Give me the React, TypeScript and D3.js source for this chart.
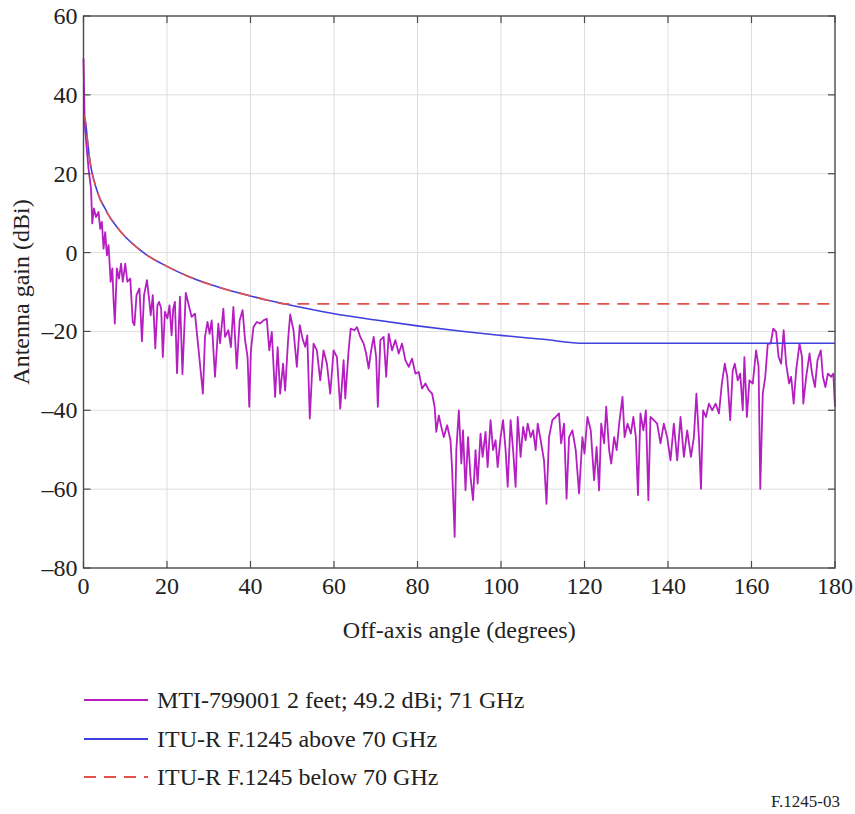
import React, { Component } from 'react';
import * as d3 from 'd3';

const measured: [number, number][] = [
  [0, 49.2], [0.3, 32.3], [1.2, 21.3], [1.8, 16.2], [2.1, 7.4], [2.5, 11.2], [3.0, 9], [3.6, 10.3],
  [4.0, 6], [4.4, 7.8], [4.8, 1], [5.2, 5.2], [5.6, -0.7], [6.0, 1.9], [6.5, -7.4], [6.9, -4],
  [7.2, -12], [7.5, -18], [8, -4], [8.5, -6.6], [9, -2.8], [9.4, -7.4], [10, -2.8], [10.5, -7.4],
  [11.2, -6.6], [11.8, -17.6], [12.2, -18.4], [12.7, -10.8], [13.4, -9.1], [14, -22.5], [14.5, -10.8],
  [15.2, -7], [15.7, -11.7], [16.1, -15.9], [16.6, -10.8], [17.2, -24.3], [17.7, -13.4], [18.1, -12.5],
  [18.6, -14.2], [19, -26.5], [19.5, -15], [20.1, -16.7], [20.6, -13.4], [21.1, -21], [21.5, -14.2],
  [21.9, -12.5], [22.4, -30.6], [23.1, -11.2], [23.7, -30.8], [24.5, -10.2],
  [25.9, -16.3], [26.7, -15.5], [27.5, -24], [28.6, -35.8], [29.1, -21.4], [29.7, -17.6], [30.2, -20.6],
  [30.7, -17.2], [31.5, -31.5], [32.3, -18], [32.7, -23], [33.5, -14.2], [33.9, -21.4], [34.7, -19.7],
  [35.3, -24], [35.9, -13.8], [36.7, -29.4], [37.4, -17.2], [38.1, -14.6], [38.7, -22.2], [39.3, -26.5],
  [39.7, -39.1], [40.1, -24.8], [40.7, -18.9], [41.5, -17.6], [42.3, -18], [43.1, -17.2], [43.9, -16.8],
  [44.5, -24.8], [45.1, -20.1], [45.9, -36.6], [46.5, -24], [47.1, -35.8], [47.8, -28.2], [48.3, -35],
  [49, -22.2], [49.5, -15.7], [50.3, -19.7], [51.1, -29], [51.8, -18.4],
  [52.5, -22], [53.1, -23.9], [53.6, -21], [54.2, -42.1], [55.1, -23.1], [55.9, -24.8], [56.7, -32.4],
  [57.5, -24.8], [58.3, -28.2], [59.1, -35.8], [59.9, -24.8], [60.7, -26.5], [61.5, -39.6], [62.3, -27.3],
  [62.7, -37], [63.5, -24.8], [64, -19.3], [64.9, -19.7], [65.5, -18.9], [66.3, -21.4], [67.1, -23.1],
  [67.7, -25.6], [68.3, -29.4], [68.9, -24.8], [69.5, -21.4], [70.1, -26.5], [70.5, -39.1], [71.1, -22.2],
  [71.9, -21.4], [72.5, -31.5], [73.1, -20.6], [73.9, -24.8], [74.7, -22.2], [75.5, -25.6], [76.3, -23.1],
  [77.1, -27.3], [77.9, -29], [78.7, -26.9], [79.5, -30.7], [80.3, -30.3], [81.1, -34.5], [81.9, -33.2],
  [82.7, -34.9], [83.5, -35.8], [84.1, -39.1], [84.5, -45.5], [85.1, -41.3], [85.7, -44.2], [86.3, -46.8],
  [87.1, -43.8], [87.9, -47.6], [88.3, -55.2], [88.9, -72.1], [89.3, -50.1], [89.9, -40], [90.5, -53.5],
  [90.9, -45.1], [91.5, -60.3], [92.1, -46.8], [92.7, -56.9], [93.3, -62.8], [93.9, -50.1], [94.4, -58.6],
  [95.1, -45.9], [95.6, -51.8], [96.3, -45.5], [96.8, -54.4], [97.5, -42.5], [98.1, -50.1], [98.7, -47.6],
  [99.2, -54.4], [99.9, -46.8], [100.5, -42.5], [101.1, -50.1], [101.6, -59.4], [102.3, -42.5], [102.9, -50.1],
  [103.5, -59.4], [104, -41.7], [104.7, -51.8], [105.3, -44.2], [105.9, -47.6], [106.4, -43.4], [107.1, -46.8],
  [107.7, -45.1], [108.3, -50.1], [108.8, -43.4], [109.5, -47.6], [110.3, -52.7], [110.9, -63.7], [111.5, -46.8],
  [112.3, -42.5], [113.1, -41.7], [113.9, -40.8], [114.4, -48.4], [115.1, -43.4], [115.7, -62.4], [116.3, -46.8],
  [117.1, -45.1], [117.9, -50.1], [118.7, -61.1],
  [119.5, -46.8], [120, -51], [120.7, -41.7], [121.5, -45.1], [122.3, -57.7], [122.9, -49.3], [123.5, -60.3],
  [124, -43.4], [124.7, -48.4], [125.2, -39.1], [125.9, -50.1], [126.4, -53.5], [127.1, -46.8], [127.7, -50.1],
  [128.3, -43.4], [129.1, -36.6], [129.6, -46.8], [130.3, -43.4], [131.1, -45.9], [131.7, -41.7], [132.3, -46.8],
  [132.8, -61.5], [133.4, -40.8], [134.1, -45.1], [134.7, -40], [135.3, -62.8], [135.8, -41.7], [136.6, -42.5],
  [137.4, -43.4], [138.2, -48.4], [139, -43.4], [139.8, -46.8], [140.6, -52.7], [141.4, -43.4], [142.2, -52.7],
  [143, -41.7], [143.8, -51.8], [144.6, -45.1], [145.5, -51.8], [146.2, -46.8], [146.8, -35.8], [147.4, -46.8],
  [147.9, -59.9], [148.4, -40], [149.1, -41.7], [149.8, -38.3], [150.6, -40], [151.4, -38.3], [152.2, -40.8],
  [152.9, -33.2], [153.6, -28.2], [154.2, -31.5], [154.9, -42.5], [155.5, -29.9], [156, -28.2], [156.7, -32.4],
  [157.3, -30.7], [157.9, -40], [158.3, -26.5], [158.9, -41.7], [159.5, -32.4], [160.3, -33.2], [161.1, -24.8],
  [161.7, -29], [162.1, -59.9], [162.7, -35.8], [163.3, -31.5], [163.9, -23.1], [164.6, -23.1], [165.2, -19.3],
  [165.9, -20.1], [166.5, -26.5], [167.1, -28.2], [167.7, -19.7], [168.3, -28.2], [169, -33.2], [169.5, -31.5],
  [170.1, -38.3], [170.7, -29.9], [171.5, -23.1], [172.1, -26.5], [172.4, -38.3], [173.1, -31.5], [173.9, -25.6],
  [174.5, -30.7], [175.2, -34.1], [175.8, -27.3], [176.6, -24.8], [177.1, -31.5], [177.7, -34.1], [178.3, -30.7],
  [179.1, -31.5], [179.6, -30.7], [180, -39.1],
];

// ITU-R F.1245 envelopes, read at these angles
const ituAngle = [0, 0.5, 1, 1.5, 2, 3, 4, 5, 6, 8, 10, 12, 15, 20, 25, 30, 35, 40, 45, 48, 55, 60, 70, 80, 90, 100, 110, 120, 180];
const above70Gain = [35, 33, 28, 23.5, 20.5, 16.5, 13.5, 11.5, 9.5, 6.5, 4, 2, -0.5, -3.5, -6, -8, -9.6, -11, -12.3, -13, -14.5, -15.5, -17.1, -18.6, -19.9, -21, -22, -23, -23];
const below70Gain = [35, 33, 28, 23.5, 20.5, 16.5, 13.5, 11.5, 9.5, 6.5, 4, 2, -0.5, -3.5, -6, -8, -9.6, -11, -12.3, -13, -13, -13, -13, -13, -13, -13, -13, -13, -13];

const xTicks = [0, 20, 40, 60, 80, 100, 120, 140, 160, 180];
const yTicks = [60, 40, 20, 0, -20, -40, -60, -80];

const legendLabels = [
  'MTI-799001 2 feet; 49.2 dBi; 71 GHz',
  'ITU-R F.1245 above 70 GHz',
  'ITU-R F.1245 below 70 GHz',
];

const MAGENTA = '#b51fc2';
const BLUE = '#3f3fe0';
const RED = '#e2524a';
const FONT = '"Liberation Serif", "Times New Roman", serif';

class App extends Component {
  myRef: React.RefObject<SVGSVGElement>;

  constructor(props: any) {
    super(props);
    this.myRef = React.createRef();
  }

  componentDidMount() {
    this.drawChart();
  }

  drawChart() {
    const w = 855;
    const h = 814;
    const left = 83.5, right = 835, top = 16, bottom = 568;

    const svg = d3.select(this.myRef.current);
    svg.selectAll('*').remove();
    svg.append('rect').attr('width', w).attr('height', h).attr('fill', '#ffffff');

    const x = d3.scaleLinear().domain([0, 180]).range([left, right]);
    const y = d3.scaleLinear().domain([-80, 60]).range([bottom, top]);

    // grid
    const grid = svg.append('g').attr('stroke', '#dedede').attr('stroke-width', 1);
    grid.selectAll('line.gx')
      .data(xTicks.slice(1, -1))
      .enter().append('line')
      .attr('x1', d => x(d)).attr('x2', d => x(d))
      .attr('y1', top).attr('y2', bottom);
    grid.selectAll('line.gy')
      .data(yTicks.slice(1, -1))
      .enter().append('line')
      .attr('x1', left).attr('x2', right)
      .attr('y1', d => y(d)).attr('y2', d => y(d));

    const plot = svg.append('g');

    const line = d3.line<[number, number]>()
      .x(d => x(d[0]))
      .y(d => y(d[1]));

    plot.append('path')
      .datum(measured)
      .attr('d', line)
      .attr('fill', 'none')
      .attr('stroke', MAGENTA)
      .attr('stroke-width', 1.8)
      .attr('stroke-linejoin', 'round');

    const envLine = d3.line<number>()
      .x((d, i) => x(ituAngle[i]))
      .y(d => y(d))
      .curve(d3.curveMonotoneX);

    plot.append('path')
      .datum(above70Gain)
      .attr('d', envLine)
      .attr('fill', 'none')
      .attr('stroke', BLUE)
      .attr('stroke-width', 1.6);

    plot.append('path')
      .datum(below70Gain)
      .attr('d', envLine)
      .attr('fill', 'none')
      .attr('stroke', RED)
      .attr('stroke-width', 1.6)
      .attr('stroke-dasharray', '12,8');

    // frame + inward ticks
    const axisColor = '#4a4a4a';
    svg.append('rect')
      .attr('x', left).attr('y', top)
      .attr('width', right - left).attr('height', bottom - top)
      .attr('fill', 'none').attr('stroke', axisColor).attr('stroke-width', 1.4);

    const ticks = svg.append('g').attr('stroke', axisColor).attr('stroke-width', 1.2);
    xTicks.forEach(t => {
      ticks.append('line').attr('x1', x(t)).attr('x2', x(t)).attr('y1', bottom).attr('y2', bottom - 7);
      ticks.append('line').attr('x1', x(t)).attr('x2', x(t)).attr('y1', top).attr('y2', top + 7);
    });
    yTicks.forEach(t => {
      ticks.append('line').attr('x1', left).attr('x2', left + 7).attr('y1', y(t)).attr('y2', y(t));
      ticks.append('line').attr('x1', right).attr('x2', right - 7).attr('y1', y(t)).attr('y2', y(t));
    });

    const fmt = (v: number) => (v < 0 ? '\u2013' + Math.abs(v) : String(v));

    svg.append('g').selectAll('text')
      .data(xTicks)
      .enter().append('text')
      .attr('x', d => x(d))
      .attr('y', bottom + 26)
      .attr('text-anchor', 'middle')
      .attr('font-family', FONT)
      .attr('font-size', 24)
      .attr('fill', '#222')
      .text(d => fmt(d));

    svg.append('g').selectAll('text')
      .data(yTicks)
      .enter().append('text')
      .attr('x', left - 6)
      .attr('y', d => y(d) + 8)
      .attr('text-anchor', 'end')
      .attr('font-family', FONT)
      .attr('font-size', 24)
      .attr('fill', '#222')
      .text(d => fmt(d));

    svg.append('text')
      .attr('x', (left + right) / 2)
      .attr('y', 638)
      .attr('text-anchor', 'middle')
      .attr('font-family', FONT)
      .attr('font-size', 24)
      .attr('fill', '#222')
      .text('Off-axis angle (degrees)');

    svg.append('text')
      .attr('transform', `translate(29, ${(top + bottom) / 2}) rotate(-90)`)
      .attr('text-anchor', 'middle')
      .attr('font-family', FONT)
      .attr('font-size', 24)
      .attr('fill', '#222')
      .text('Antenna gain (dBi)');

    // legend
    const legendColors = [MAGENTA, BLUE, RED];
    const legendY = [700, 739, 777];
    const legend = svg.append('g');
    legendLabels.forEach((label, i) => {
      legend.append('line')
        .attr('x1', 84).attr('x2', 148)
        .attr('y1', legendY[i]).attr('y2', legendY[i])
        .attr('stroke', legendColors[i])
        .attr('stroke-width', 1.8)
        .attr('stroke-dasharray', i === 2 ? '12,8' : null);
      legend.append('text')
        .attr('x', 157)
        .attr('y', legendY[i] + 8)
        .attr('font-family', FONT)
        .attr('font-size', 24)
        .attr('fill', '#222')
        .text(label);
    });

    svg.append('text')
      .attr('x', 840)
      .attr('y', 807)
      .attr('text-anchor', 'end')
      .attr('font-family', FONT)
      .attr('font-size', 17)
      .attr('fill', '#222')
      .text('F.1245-03');
  }

  render() {
    return (
      <svg
        ref={this.myRef}
        width={855}
        height={814}
        style={{ position: 'absolute', left: 0, top: 0 }}
      />
    );
  }
}

export default App;
